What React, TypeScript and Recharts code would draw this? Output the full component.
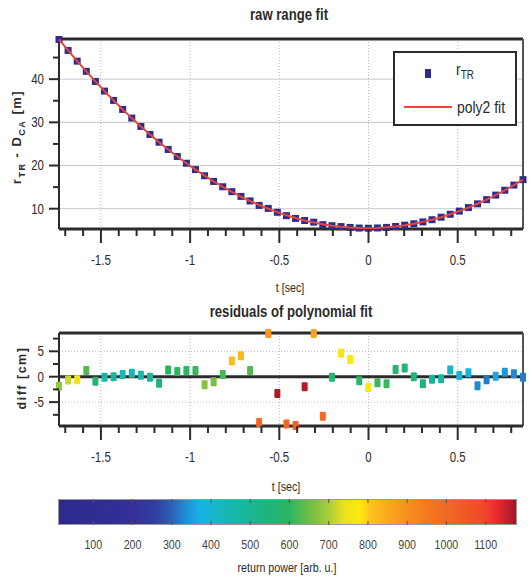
import React from "react";
import {
  ComposedChart,
  Scatter,
  Line,
  XAxis,
  YAxis,
  CartesianGrid,
  ReferenceLine,
} from "recharts";

const FONT = "'Liberation Sans', Arial, sans-serif";
const NARROW = 0.82; // the original uses a narrow Helvetica
const INK = "#2b2b2b";

// sample times [sec]
const tSec = [
  -1.735, -1.684, -1.633, -1.582, -1.531, -1.48, -1.429, -1.378, -1.327, -1.276,
  -1.225, -1.174, -1.123, -1.072, -1.021, -0.97, -0.919, -0.868, -0.817, -0.766,
  -0.715, -0.664, -0.613, -0.562, -0.511, -0.46, -0.409, -0.358, -0.307, -0.256,
  -0.205, -0.154, -0.103, -0.052, -0.001, 0.05, 0.101, 0.152, 0.203, 0.254,
  0.305, 0.356, 0.407, 0.458, 0.509, 0.56, 0.611, 0.662, 0.713, 0.764,
  0.815, 0.866,
];

// r_TR - D_CA [m]
const rangeTR = [
  49.18, 46.65, 44.18, 41.81, 39.47, 37.24, 35.08, 32.99, 30.99, 29.05,
  27.19, 25.4, 23.72, 22.09, 20.53, 19.06, 17.63, 16.31, 15.08, 13.94,
  12.85, 11.8, 10.76, 10.07, 9.17, 8.39, 7.75, 7.27, 6.89, 6.31,
  6.06, 5.86, 5.66, 5.52, 5.48, 5.54, 5.67, 5.89, 6.18, 6.51,
  6.94, 7.45, 8.04, 8.71, 9.44, 10.26, 11.12, 12.09, 13.15, 14.28,
  15.47, 16.73,
];

// poly2 fit [m]
const polyFit = [
  49.2, 46.66, 44.19, 41.8, 39.48, 37.24, 35.08, 32.99, 30.98, 29.05,
  27.19, 25.41, 23.71, 22.08, 20.52, 19.05, 17.65, 16.32, 15.08, 13.91,
  12.81, 11.79, 10.85, 9.99, 9.2, 8.48, 7.85, 7.29, 6.8, 6.39,
  6.06, 5.81, 5.63, 5.53, 5.5, 5.55, 5.68, 5.88, 6.16, 6.51,
  6.95, 7.45, 8.04, 8.7, 9.44, 10.25, 11.14, 12.1, 13.15, 14.27,
  15.46, 16.73,
];

// residuals [cm]
const diffCm = [
  -1.9, -0.65, -0.6, 1.2, -0.9, -0.1, 0, 0.45, 0.7, 0.3,
  -0.1, -1.3, 1.3, 1.0, 1.2, 1.2, -1.6, -1.0, 0.45, 3.1,
  4.1, 1.2, -9.0, 8.5, -3.3, -9.3, -9.6, -2.0, 8.5, -7.8,
  -0.1, 4.6, 3.4, -0.8, -2.1, -1.2, -1.4, 1.4, 1.7, 0,
  -1.4, -0.5, -0.4, 1.3, 0.25, 0.8, -1.8, -0.6, 0.1, 0.9,
  0.6, -0.1,
];

// return power [arb. u.]
const returnPower = [
  680, 720, 760, 630, 560, 460, 470, 440, 440, 470,
  490, 540, 590, 600, 600, 610, 670, 660, 620, 820,
  830, 630, 1010, 885, 1175, 1015, 1025, 1170, 860, 1000,
  560, 770, 775, 590, 770, 610, 610, 560, 560, 550,
  540, 500, 480, 420, 390, 380, 330, 320, 360, 340,
  330, 320,
];

const tTicks = [
  -1.7, -1.6, -1.5, -1.4, -1.3, -1.2, -1.1, -1, -0.9, -0.8, -0.7, -0.6, -0.5,
  -0.4, -0.3, -0.2, -0.1, 0, 0.1, 0.2, 0.3, 0.4, 0.5, 0.6, 0.7, 0.8,
];
const tLabels = [-1.5, -1, -0.5, 0, 0.5];
const rangeTicks = [10, 15, 20, 25, 30, 35, 40, 45];
const rangeLabels = [10, 20, 30, 40];
const diffTicks = [-7.5, -5, -2.5, 0, 2.5, 5, 7.5];
const diffLabels = [-5, 0, 5];
const powerTicks = [100, 200, 300, 400, 500, 600, 700, 800, 900, 1000, 1100];

// jet-like colour scale for the return power
const jet: [number, string][] = [
  [10, "#2c2a8d"], [200, "#352f97"], [260, "#3140a0"], [300, "#2c62b6"],
  [330, "#1f8ad2"], [370, "#15b2e8"], [410, "#17b8c8"], [475, "#18b6a2"],
  [540, "#1db57e"], [600, "#2db560"], [650, "#6dbd45"], [700, "#a9cd3a"],
  [740, "#e9e21e"], [780, "#fde90f"], [810, "#fcc11b"], [880, "#f8991d"],
  [950, "#f57921"], [1030, "#f16025"], [1100, "#ee472b"], [1130, "#eb2a2c"],
  [1180, "#a3172a"],
];

const T_DOMAIN: [number, number] = [-1.735, 0.866];
const R_DOMAIN: [number, number] = [5.3, 49.3];
const D_DOMAIN: [number, number] = [-9.7, 8.6];
const P_DOMAIN: [number, number] = [10, 1180];

const rangeData = tSec.map((t, i) => ({ t, r: rangeTR[i], fit: polyFit[i] }));
const diffData = tSec.map((t, i) => ({ t, d: diffCm[i], p: returnPower[i] }));
const powerData = powerTicks.map((p) => ({ p, v: 0.5 }));

const rgb = (h: string) => [1, 3, 5].map((k) => parseInt(h.slice(k, k + 2), 16));

function powerColor(p: number) {
  if (p <= jet[0][0]) return jet[0][1];
  for (let k = 1; k < jet.length; k++) {
    if (p <= jet[k][0]) {
      const [p0, c0] = jet[k - 1];
      const [p1, c1] = jet[k];
      const f = (p - p0) / (p1 - p0);
      const a = rgb(c0);
      const b = rgb(c1);
      return `rgb(${a.map((v, j) => Math.round(v + (b[j] - v) * f)).join(",")})`;
    }
  }
  return jet[jet.length - 1][1];
}

const jetGradient = `linear-gradient(to right, ${jet
  .map(([p, c]) => `${c} ${(((p - P_DOMAIN[0]) / (P_DOMAIN[1] - P_DOMAIN[0])) * 100).toFixed(2)}%`)
  .join(", ")})`;

const isIn = (v: number, list: number[]) => list.some((l) => Math.abs(l - v) < 1e-6);

const Narrow = ({ x, y, anchor, size, fill, children }: any) => (
  <text
    transform={`translate(${x} ${y}) scale(${NARROW} 1)`}
    textAnchor={anchor}
    dominantBaseline="central"
    fontSize={size}
    fill={fill}
    fontFamily={FONT}
  >
    {children}
  </text>
);

const xTick = (labels: number[]) => (props: any) => {
  const { x, y, payload } = props;
  const major = isIn(payload.value, labels);
  return (
    <g>
      <line x1={x} x2={x} y1={y} y2={y + (major ? 14 : 7)} stroke={INK} strokeWidth={2} />
      {major && (
        <Narrow x={x} y={y + 31} anchor="middle" size={14} fill={INK}>
          {String(payload.value)}
        </Narrow>
      )}
    </g>
  );
};

const yTick = (labels: number[]) => (props: any) => {
  const { x, y, payload } = props;
  const major = isIn(payload.value, labels);
  return (
    <g>
      <line x1={x} x2={x - (major ? 10 : 6)} y1={y} y2={y} stroke={INK} strokeWidth={2} />
      {major && (
        <Narrow x={x - 15} y={y} anchor="end" size={14} fill={INK}>
          {String(payload.value)}
        </Narrow>
      )}
    </g>
  );
};

const powerTick = (props: any) => {
  const { x, y, payload } = props;
  return (
    <g>
      <line x1={x} x2={x} y1={y - 26} y2={y - 22} stroke="#555" strokeWidth={1} />
      <line x1={x} x2={x} y1={y - 4} y2={y} stroke="#555" strokeWidth={1} />
      <Narrow x={x} y={y + 20} anchor="middle" size={13} fill="#444">
        {String(payload.value)}
      </Narrow>
    </g>
  );
};

const rangeSquare = (props: any) => (
  <rect x={props.cx - 3.5} y={props.cy - 3.5} width={7} height={7} fill="#2e2d8f" />
);

const diffRect = (props: any) => (
  <rect x={props.cx - 3} y={props.cy - 4.5} width={6} height={9} rx={1} fill={powerColor(props.payload.p)} />
);

const text = (s: React.CSSProperties): React.CSSProperties => ({
  position: "absolute",
  fontFamily: FONT,
  color: INK,
  whiteSpace: "nowrap",
  ...s,
});

const centered = (cx: number, cy: number, size: number, weight: number | string = 400): React.CSSProperties =>
  text({
    left: cx - 150,
    width: 300,
    top: cy - 10,
    lineHeight: "20px",
    textAlign: "center",
    fontSize: size,
    fontWeight: weight,
    transform: `scaleX(${NARROW})`,
  });

const rotated = (cx: number, cy: number, size: number, spacing: number): React.CSSProperties =>
  text({
    left: cx,
    top: cy,
    fontSize: size,
    fontWeight: 700,
    letterSpacing: spacing,
    transform: "translate(-50%, -50%) rotate(-90deg)",
  });

const legendText = (left: number, top: number): React.CSSProperties =>
  text({ left, top, fontSize: 17, lineHeight: "20px", transform: `scaleX(${NARROW})`, transformOrigin: "left center" });

export default function App() {
  return (
    <div style={{ position: "absolute", left: 0, top: 0, width: 530, height: 577, background: "#fff", overflow: "hidden" }}>
      {/* raw range fit */}
      <div style={{ position: "absolute", left: 0, top: 0 }}>
        <ComposedChart width={530} height={275} data={rangeData} margin={{ top: 39, right: 7, bottom: 0, left: 0 }}>
          <CartesianGrid vertical={false} horizontalValues={rangeLabels} stroke="#c9c9c9" />
          <CartesianGrid horizontal={false} verticalValues={tLabels} stroke="#b5b5b5" strokeDasharray="1 2" />
          <XAxis
            dataKey="t"
            type="number"
            domain={T_DOMAIN}
            ticks={tTicks}
            interval={0}
            tick={xTick(tLabels)}
            tickLine={false}
            tickSize={0}
            tickMargin={0}
            height={46}
            axisLine={{ stroke: INK, strokeWidth: 3 }}
          />
          <YAxis
            type="number"
            domain={R_DOMAIN}
            ticks={rangeTicks}
            interval={0}
            tick={yTick(rangeLabels)}
            tickLine={false}
            tickSize={0}
            tickMargin={0}
            width={59}
            axisLine={{ stroke: INK, strokeWidth: 2 }}
          />
          <ReferenceLine y={R_DOMAIN[1]} stroke={INK} strokeWidth={3} />
          <ReferenceLine x={T_DOMAIN[1]} stroke="#555" strokeWidth={2} />
          <Scatter dataKey="r" shape={rangeSquare} isAnimationActive={false} />
          <Line dataKey="fit" stroke="#e5473a" strokeWidth={2} dot={false} isAnimationActive={false} zIndex={700} />
        </ComposedChart>
      </div>

      <div style={centered(289, 15, 16, 700)}>raw range fit</div>
      <div style={centered(290, 288, 13)}>t [sec]</div>
      <div style={rotated(18, 137, 13, 1.5)}>
        r<sub style={{ fontSize: 9 }}>TR</sub> - D<sub style={{ fontSize: 9 }}>CA</sub> [m]
      </div>

      {/* legend */}
      <div style={{ position: "absolute", left: 393, top: 51, width: 120, height: 71, border: `2px solid ${INK}`, background: "#fff" }} />
      <div style={{ position: "absolute", left: 425, top: 69, width: 6, height: 9, background: "#2e2d8f" }} />
      <div style={legendText(456, 60)}>
        r<sub style={{ fontSize: 12 }}>TR</sub>
      </div>
      <div style={{ position: "absolute", left: 404, top: 106, width: 48, height: 2, background: "#e5473a" }} />
      <div style={legendText(457, 98)}>poly2 fit</div>

      {/* residuals */}
      <div style={{ position: "absolute", left: 0, top: 290 }}>
        <ComposedChart width={530} height={182} data={diffData} margin={{ top: 43, right: 7, bottom: 0, left: 0 }}>
          <CartesianGrid vertical={false} horizontalValues={[-5, 5]} stroke="#bdbdbd" strokeDasharray="1 2" />
          <CartesianGrid horizontal={false} verticalValues={tLabels} stroke="#b5b5b5" strokeDasharray="1 2" />
          <XAxis
            dataKey="t"
            type="number"
            domain={T_DOMAIN}
            ticks={tTicks}
            interval={0}
            tick={xTick(tLabels)}
            tickLine={false}
            tickSize={0}
            tickMargin={0}
            height={46}
            axisLine={{ stroke: INK, strokeWidth: 3 }}
          />
          <YAxis
            type="number"
            domain={D_DOMAIN}
            ticks={diffTicks}
            interval={0}
            tick={yTick(diffLabels)}
            tickLine={false}
            tickSize={0}
            tickMargin={0}
            width={59}
            axisLine={{ stroke: INK, strokeWidth: 2 }}
          />
          <ReferenceLine y={0} stroke={INK} strokeWidth={3} />
          <ReferenceLine y={D_DOMAIN[1]} stroke={INK} strokeWidth={3} />
          <ReferenceLine x={T_DOMAIN[1]} stroke="#555" strokeWidth={2} />
          <Scatter dataKey="d" shape={diffRect} isAnimationActive={false} />
        </ComposedChart>
      </div>

      <div style={centered(291, 312, 16, 700)}>residuals of polynomial fit</div>
      <div style={rotated(22, 378, 12.5, 1.5)}>diff [cm]</div>
      <div style={centered(286, 487, 13)}>t [sec]</div>

      {/* colour bar */}
      <div
        style={{
          position: "absolute",
          left: 58,
          top: 499,
          width: 459,
          height: 26,
          boxSizing: "border-box",
          border: "1px solid #999",
          background: jetGradient,
        }}
      />
      <div style={{ position: "absolute", left: 0, top: 490 }}>
        <ComposedChart width={530} height={70} data={powerData} margin={{ top: 9, right: 13, bottom: 0, left: 58 }}>
          <XAxis
            dataKey="p"
            type="number"
            domain={P_DOMAIN}
            ticks={powerTicks}
            interval={0}
            tick={powerTick}
            tickLine={false}
            tickSize={0}
            tickMargin={0}
            height={35}
            axisLine={false}
          />
          <YAxis type="number" domain={[0, 1]} hide />
        </ComposedChart>
      </div>
      <div style={centered(287, 568, 13)}>return power [arb. u.]</div>
    </div>
  );
}
